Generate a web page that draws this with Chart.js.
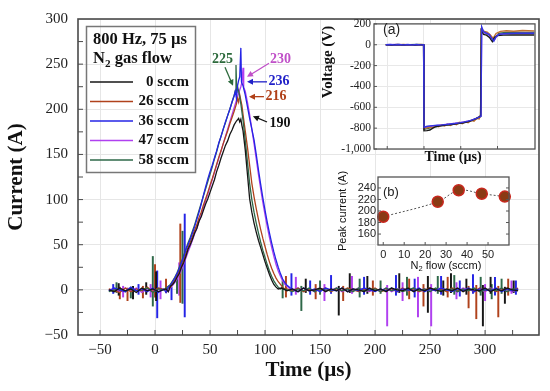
<!DOCTYPE html>
<html>
<head>
<meta charset="utf-8">
<script src="https://cdn.jsdelivr.net/npm/chart.js@4.4.0/dist/chart.umd.min.js"></script>
<style>
  html, body { margin: 0; padding: 0; background: #fff; }
  #wrap { position: relative; width: 550px; height: 391px; overflow: hidden; }
  canvas { position: absolute; }
</style>
</head>
<body>
<div id="wrap">
  <canvas id="main" width="550" height="391" style="left:0;top:0"></canvas>
  <canvas id="insetA" width="228" height="152" style="left:312px;top:14px"></canvas>
  <canvas id="insetB" width="180" height="110" style="left:336px;top:164px"></canvas>
</div>
<script>
// ---- main plot: current waveforms ----
const seriesNames = ["0 sccm", "26 sccm", "36 sccm", "47 sccm", "58 sccm"];
const seriesColors = ["#161616", "#b0421c", "#2424e6", "#b040f0", "#2e6848"];

const xTicks = [-50, 0, 50, 100, 150, 200, 250, 300];
const yTicks = [-50, 0, 50, 100, 150, 200, 250, 300];
const xMarks = [-50, -25, 0, 25, 50, 75, 100, 125, 150, 175, 200, 225, 250, 275, 300, 325];
const yMarks = [-25, 0, 25, 50, 75, 100, 125, 150, 175, 200, 225, 250, 275];

// baseline before and after the pulse (µs)
const preTimes = [-42, -37, -32, -27, -22, -17, -12, -7, -2, 3];
const postTimes = [115, 120, 125, 130, 135, 140, 145, 150, 155, 160,
  165, 170, 175, 180, 185, 190, 195, 200, 205, 210,
  215, 220, 225, 230, 235, 240, 245, 250, 255, 260,
  265, 270, 275, 280, 285, 290, 295, 300, 305, 310,
  315, 320, 325, 330];

const pre0 = [0, -2, 2, -1, 1, -3, 2, -1, 1, -2];
const pre1 = [1, -1, -3, 2, -2, 1, -1, 3, -2, 2];
const pre2 = [-1, 2, 0, -2, 3, -1, 1, -2, 2, -3];
const pre3 = [0, 1, -2, 2, -1, 2, -3, 1, -1, 1];
const pre4 = [-2, 0, 1, -2, 2, -1, 0, 2, -3, 1];

const post0 = [2, -1, 1, -2, 2, -1, 0, 2, -2, 1, -1, 2, -2, 1, 0, -2, 2, -1, 1, -2,
  2, 0, -1, 2, -2, 1, -1, 2, 0, -2, 1, -1, 2, -2, 1, 0, -1, 2, -2, 1, -1, 2, 0, -1];
const post1 = [3, 1, -1, 2, -2, 1, -1, 0, 2, -2, 1, -1, 2, 0, -2, 1, -1, 2, -2, 0,
  1, -2, 2, -1, 1, -2, 0, 2, -1, 1, -2, 2, -1, 0, 1, -2, 2, -1, 1, -2, 0, 1, -1, 2];
const post2 = [-1, 2, 1, -2, 2, -1, 1, -2, 2, 0, -1, 2, -2, 1, -1, 2, 0, -2, 1, -1,
  2, -2, 1, 0, -1, 2, -2, 1, -1, 2, 0, -2, 1, -1, 2, -2, 1, 0, -1, 2, -2, 1, -1, 1];
const post3 = [1, -2, 0, 2, -1, 1, -2, 2, -1, 0, 2, -2, 1, -1, 2, 0, -2, 1, -1, 2,
  -2, 1, 0, -1, 2, -2, 1, -1, 0, 2, -1, 1, -2, 2, 0, -1, 1, -2, 2, -1, 1, 0, -2, 1];
const post4 = [2, 0, -2, 1, -1, 2, -2, 1, 0, -1, 2, -1, 1, -2, 2, -1, 0, 1, -2, 2,
  -1, 1, -2, 0, 2, -1, 1, -2, 2, -1, 0, 1, -2, 1, -1, 2, -2, 0, 1, -1, 2, -2, 1, 0];

// the pulse itself [time µs, current A]
const pulse0 = [[10,1],[12,-2],[14,4],[16,6],[18,9],[20,14],[22,18],[24,25],[26,30],[28,37],[30,45],[32,50],[34,56],[36,63],[38,68],[40,76],[42,81],[44,88],[46,95],[48,101],[50,108],[52,115],[54,122],[56,131],[58,138],[60,146],[62,153],[64,160],[66,165],[68,172],[70,177],[72,183],[74,187],[76,190],[77,186],[78,189],[79,182],[80,176],[82,155],[84,128],[86,101],[88,86],[90,74],[92,64],[94,55],[96,47],[98,39],[100,31],[102,24],[104,17],[106,11],[108,6],[110,3],[112,1]];
const pulse1 = [[10,0],[12,2],[14,3],[16,7],[18,11],[20,16],[22,21],[24,27],[26,33],[28,40],[30,47],[32,53],[34,59],[36,66],[38,72],[40,80],[42,86],[44,94],[46,101],[48,108],[50,116],[52,123],[54,131],[56,139],[58,147],[60,154],[62,162],[64,169],[66,176],[68,184],[70,191],[72,198],[74,206],[75,212],[76,208],[77,216],[78,210],[79,204],[80,194],[82,176],[84,158],[86,138],[88,118],[90,103],[92,90],[94,78],[96,67],[98,57],[100,48],[102,39],[104,31],[106,24],[108,18],[110,13],[112,9],[114,6],[116,3],[118,1]];
const pulse2 = [[8,1],[10,-3],[12,3],[14,5],[16,9],[18,13],[20,18],[22,23],[24,30],[26,36],[28,44],[30,50],[32,56],[34,63],[36,70],[38,78],[40,86],[42,95],[44,105],[46,114],[48,123],[50,131],[52,138],[54,146],[56,154],[58,163],[60,170],[62,178],[64,186],[66,193],[68,200],[70,208],[72,215],[73,220],[74,212],[75,226],[76,232],[77,236],[78,268],[78.6,230],[80,226],[82,216],[84,203],[86,190],[88,178],[90,166],[92,150],[94,133],[96,117],[98,102],[100,88],[102,75],[104,63],[106,52],[108,42],[110,33],[112,25],[114,18],[116,12],[118,8],[120,5],[123,2],[126,0]];
const pulse3 = [[10,0],[12,-2],[14,2],[16,5],[18,8],[20,12],[22,17],[24,22],[26,28],[28,35],[30,42],[32,48],[34,55],[36,62],[38,68],[40,76],[42,83],[44,91],[46,99],[48,106],[50,114],[52,122],[54,130],[56,138],[58,146],[60,154],[62,162],[64,170],[66,178],[68,186],[70,194],[72,202],[74,210],[76,218],[78,225],[79,230],[80,246],[80.6,224],[82,220],[84,208],[86,194],[88,178],[90,162],[92,145],[94,128],[96,112],[98,97],[100,83],[102,70],[104,58],[106,47],[108,37],[110,28],[112,21],[114,15],[116,10],[118,6],[121,3],[124,0]];
const pulse4 = [[8,0],[10,2],[12,4],[14,6],[16,10],[18,14],[20,19],[22,25],[24,31],[26,38],[28,45],[30,52],[32,58],[34,65],[36,72],[38,80],[40,88],[42,96],[44,104],[46,112],[48,120],[50,128],[52,136],[54,145],[56,153],[58,162],[60,170],[62,178],[64,185],[66,193],[68,200],[70,208],[72,216],[73,221],[73.6,249],[74.3,218],[75,225],[76,220],[77,214],[78,206],[80,188],[82,166],[84,142],[86,118],[88,100],[90,86],[92,74],[94,63],[96,53],[98,44],[100,36],[102,28],[104,21],[106,15],[108,10],[110,6],[112,3],[114,1]];

// noise spikes [time µs, low A, high A]
const spikes0 = [[-33,-6,7],[-20,-10,4],[-8,-5,8],[1,-12,20],[137,-3,12],[167,-28,4],[177,-3,18],[193,-4,15],[222,-3,18],[248,-25,15],[262,-6,10],[269,-3,18],[283,-5,12],[298,-40,5],[305,-4,14],[318,-15,3],[326,-3,10]];
const spikes1 = [[-32,-10,3],[-25,-12,2],[-11,-9,4],[0,-8,28],[10,-3,12],[23,-14,73],[119,-8,15],[146,-10,6],[171,-12,4],[198,-6,10],[231,-10,12],[244,-18,6],[266,-8,14],[285,-20,4],[292,-32,5],[312,-30,4],[321,-6,12]];
const spikes2 = [[-38,-4,6],[-15,-5,6],[2,-31,21],[15,-11,3],[27,-30,84],[124,-6,18],[141,-5,10],[160,-4,16],[190,-5,14],[219,-6,16],[236,-8,12],[260,-5,15],[277,-7,10],[289,-4,17],[309,-6,14],[328,-5,10]];
const spikes3 = [[-29,-8,4],[-4,-8,6],[5,-10,10],[22,-6,30],[128,-5,14],[154,-12,6],[179,-4,15],[211,-40,5],[225,-12,8],[239,-30,14],[251,-40,6],[274,-10,8],[300,-12,6],[324,-4,10]];
const spikes4 = [[-35,-3,8],[-22,-9,3],[-2,-18,37],[20,-4,18],[25,-15,65],[116,-9,10],[133,-23,4],[150,-5,10],[186,-8,12],[205,-4,10],[229,-6,14],[257,-4,15],[272,-5,16],[296,-6,14],[306,-10,6],[315,-4,12]];

// ---- inset (a): voltage ----
const voltTimeTicks = [-50, 0, 50, 100];
const voltTicks = [-1000, -800, -600, -400, -200, 0, 200];
const volt0 = [[-52,0],[-44,-3],[-36,2],[-28,-2],[-20,1],[-12,-2],[-4,1],[-0.5,0],[0,-826],[4,-824],[8,-818],[12,-800],[16,-786],[22,-778],[30,-771],[38,-765],[46,-757],[54,-748],[62,-735],[70,-712],[75,-692],[77,-682],[78,135],[81,100],[85,92],[89,70],[93,30],[96,72],[100,88],[108,92],[118,94],[130,93],[142,95],[150,94]];
const volt1 = [[-52,1],[-40,-2],[-28,2],[-16,-1],[-4,2],[-0.5,0],[0,-804],[4,-798],[8,-790],[12,-796],[16,-778],[20,-786],[24,-770],[28,-780],[32,-762],[36,-774],[40,-755],[44,-766],[48,-745],[52,-758],[56,-738],[60,-748],[64,-726],[68,-734],[72,-706],[75,-712],[77,-672],[78,150],[82,128],[86,120],[90,96],[94,62],[98,108],[104,128],[112,134],[122,130],[134,136],[150,133]];
const volt2 = [[-52,0],[-46,3],[-40,-2],[-34,2],[-28,-3],[-22,2],[-16,-2],[-10,3],[-4,-1],[-0.5,0],[0,-792],[3,-784],[7,-780],[12,-776],[18,-772],[24,-769],[30,-765],[36,-760],[42,-755],[48,-749],[54,-742],[60,-733],[66,-720],[72,-704],[76,-692],[77.5,-686],[78.5,172],[81,125],[85,112],[89,98],[92,62],[95,35],[98,78],[102,100],[108,106],[116,108],[126,110],[138,111],[150,110]];
const volt3 = [[-52,0],[-38,2],[-24,-2],[-10,1],[-0.5,0],[0,-798],[5,-790],[10,-782],[16,-776],[24,-770],[32,-763],[40,-756],[48,-748],[56,-739],[64,-726],[70,-710],[76,-690],[77.5,-684],[78.5,158],[82,114],[87,104],[92,58],[96,48],[100,92],[108,104],[120,107],[135,108],[150,108]];
const volt4 = [[-52,0],[-30,-2],[-10,2],[-0.5,0],[0,-812],[6,-802],[12,-790],[20,-779],[30,-771],[40,-762],[50,-751],[58,-740],[66,-724],[72,-708],[77,-688],[78,146],[83,112],[88,100],[92,70],[96,64],[102,110],[112,118],[124,120],[138,119],[150,120]];

// ---- inset (b): peak current vs flow ----
const flowValues = [0, 26, 36, 47, 58];
const peakValues = [190, 216, 236, 230, 225];
const flowTicks = [0, 10, 20, 30, 40, 50];
const peakTicks = [160, 180, 200, 220, 240];

const SERIF = '"Liberation Serif", "Times New Roman", serif';
const SANS = '"Liberation Sans", Arial, sans-serif';

// text with an optional subscript part
function drawRich(ctx, parts, family, size, weight, color, align) {
  const f = sz => `${weight} ${sz}px ${family}`;
  let total = 0;
  parts.forEach(p => { ctx.font = f(p.sub ? size * 0.68 : size); total += ctx.measureText(p.t).width; });
  let x = align === 'center' ? -total / 2 : align === 'right' ? -total : 0;
  ctx.fillStyle = color;
  ctx.textBaseline = 'middle';
  ctx.textAlign = 'left';
  parts.forEach(p => {
    const sz = p.sub ? size * 0.68 : size;
    ctx.font = f(sz);
    ctx.fillText(p.t, x, p.sub ? size * 0.3 : 0);
    x += ctx.measureText(p.t).width;
  });
}

function makeLabels(items) {
  return {
    id: 'labels',
    afterDraw(chart) {
      const ctx = chart.ctx;
      items.forEach(it => {
        ctx.save();
        ctx.translate(it.x, it.y);
        if (it.rotate) ctx.rotate(it.rotate);
        drawRich(ctx, it.parts, it.family, it.size, it.weight || 'normal', it.color || '#111', it.align || 'center');
        ctx.restore();
      });
    }
  };
}

function makeFrame(o) {
  return {
    id: 'frame',
    beforeDraw(chart) {
      if (!o.fill) return;
      const a = chart.chartArea;
      chart.ctx.save();
      chart.ctx.fillStyle = '#fff';
      chart.ctx.fillRect(a.left, a.top, a.width, a.height);
      chart.ctx.restore();
    },
    afterDatasetsDraw(chart) {
      const {ctx, chartArea: a, scales} = chart;
      ctx.save();
      ctx.strokeStyle = o.color;
      ctx.lineWidth = 1;
      ctx.beginPath();
      (o.xMarks || []).forEach(v => {
        const px = scales.x.getPixelForValue(v);
        ctx.moveTo(px, a.bottom); ctx.lineTo(px, a.bottom - o.len);
      });
      (o.yMarks || []).forEach(v => {
        const py = scales.y.getPixelForValue(v);
        ctx.moveTo(a.left, py); ctx.lineTo(a.left + o.len, py);
        if (o.mirror) { ctx.moveTo(a.right, py); ctx.lineTo(a.right - o.len, py); }
      });
      ctx.stroke();
      ctx.lineWidth = o.width;
      ctx.strokeRect(a.left, a.top, a.width, a.height);
      ctx.restore();
    }
  };
}

// ---------- main chart ----------
const pulses = [pulse0, pulse1, pulse2, pulse3, pulse4];
const pres = [pre0, pre1, pre2, pre3, pre4];
const posts = [post0, post1, post2, post3, post4];
const spikes = [spikes0, spikes1, spikes2, spikes3, spikes4];
const drawOrder = [0, 3, 1, 4, 2]; // black on top, magenta at bottom

function trace(k) {
  const p = pulses[k], first = p[0][0], last = p[p.length - 1][0];
  const pts = [];
  preTimes.forEach((t, i) => { if (t < first && pres[k][i] !== undefined) pts.push({x: t, y: pres[k][i]}); });
  p.forEach(q => pts.push({x: q[0], y: q[1]}));
  postTimes.forEach((t, i) => { if (t > last && posts[k][i] !== undefined) pts.push({x: t, y: posts[k][i]}); });
  return pts;
}

const mainSets = [];
seriesNames.forEach((name, k) => {
  mainSets.push({
    type: 'line', label: name, data: trace(k),
    borderColor: seriesColors[k], borderWidth: 1.3,
    pointRadius: 0, tension: 0, fill: false, order: drawOrder[k]
  });
});
seriesNames.forEach((name, k) => {
  mainSets.push({
    type: 'bar', label: name + ' noise',
    data: spikes[k].map(s => ({x: s[0], y: [s[1], s[2]]})),
    backgroundColor: seriesColors[k], borderWidth: 0,
    barThickness: 1.3, grouped: false, order: 5 + drawOrder[k]
  });
});

// peak value call-outs, anchored in data units
const peakNotes = [
  { k: 4, color: '#2d6a3c', at: [61.4, 255.5], tail: [63.6, 246.5], tip: [70.9, 226] },
  { k: 3, color: '#c050c8', at: [114, 255.5], tail: [103.6, 251], tip: [83.6, 236] },
  { k: 2, color: '#2020c8', at: [112.7, 230.4], tail: [101.8, 230.4], tip: [83.6, 230.4] },
  { k: 1, color: '#b04018', at: [110, 214], tail: [99, 214], tip: [85.4, 214] },
  { k: 0, color: '#111111', at: [113.6, 184.8], tail: [101.8, 185.9], tip: [89, 192.4] }
];

const notesPlugin = {
  id: 'notes',
  afterDatasetsDraw(chart) {
    const {ctx, chartArea: a, scales: {x, y}} = chart;
    ctx.save();
    peakNotes.forEach(n => {
      const tx = x.getPixelForValue(n.tail[0]), ty = y.getPixelForValue(n.tail[1]);
      const hx = x.getPixelForValue(n.tip[0]), hy = y.getPixelForValue(n.tip[1]);
      const ang = Math.atan2(hy - ty, hx - tx);
      ctx.strokeStyle = n.color; ctx.fillStyle = n.color; ctx.lineWidth = 1.3;
      ctx.beginPath(); ctx.moveTo(tx, ty);
      ctx.lineTo(hx - 4 * Math.cos(ang), hy - 4 * Math.sin(ang)); ctx.stroke();
      ctx.beginPath();
      ctx.moveTo(hx, hy);
      ctx.lineTo(hx - 6 * Math.cos(ang) + 3 * Math.sin(ang), hy - 6 * Math.sin(ang) - 3 * Math.cos(ang));
      ctx.lineTo(hx - 6 * Math.cos(ang) - 3 * Math.sin(ang), hy - 6 * Math.sin(ang) + 3 * Math.cos(ang));
      ctx.closePath(); ctx.fill();
      ctx.save();
      ctx.translate(x.getPixelForValue(n.at[0]), y.getPixelForValue(n.at[1]));
      drawRich(ctx, [{t: String(peakValues[n.k])}], SERIF, 14, 'bold', n.color, 'center');
      ctx.restore();
    });

    // legend box
    const bx = a.left + 8, by = a.top + 7;
    ctx.strokeStyle = '#777'; ctx.lineWidth = 1.5;
    ctx.strokeRect(bx + 0.5, by + 0.5, 109, 146);
    ctx.save(); ctx.translate(bx + 7, by + 14);
    drawRich(ctx, [{t: '800 Hz, 75 µs'}], SERIF, 16.5, 'bold', '#111', 'left');
    ctx.restore();
    ctx.save(); ctx.translate(bx + 7, by + 33);
    drawRich(ctx, [{t: 'N'}, {t: '2', sub: true}, {t: ' gas flow'}], SERIF, 16.5, 'bold', '#111', 'left');
    ctx.restore();
    seriesNames.forEach((name, k) => {
      const ly = by + 56 + k * 19.5;
      ctx.strokeStyle = seriesColors[k]; ctx.lineWidth = 1.6;
      ctx.beginPath(); ctx.moveTo(bx + 4, ly); ctx.lineTo(bx + 47, ly); ctx.stroke();
      ctx.save(); ctx.translate(bx + 103, ly);
      drawRich(ctx, [{t: name}], SERIF, 15, 'bold', '#111', 'right');
      ctx.restore();
    });
    ctx.restore();
  }
};

const minusFmt = v => v < 0 ? '\u2212' + Math.abs(v) : String(v);

new Chart(document.getElementById('main'), {
  type: 'line',
  data: { datasets: mainSets },
  options: {
    responsive: false, animation: false,
    layout: { padding: { left: 0, right: 11, top: 13, bottom: 0 } },
    plugins: { legend: { display: false }, tooltip: { enabled: false } },
    scales: {
      x: {
        type: 'linear', min: -70, max: 349, offset: false,
        afterBuildTicks: s => { s.ticks = xTicks.map(v => ({value: v})); },
        grid: { color: '#e6e6e6', drawTicks: false, offset: false },
        border: { display: false },
        ticks: { font: { family: SERIF, size: 15 }, color: '#222', padding: 6, maxRotation: 0, callback: minusFmt },
        title: { display: true, text: 'Time (µs)', color: '#111', font: { family: SERIF, size: 21, weight: 'bold' }, padding: { top: 0, bottom: 8 } },
        afterFit: s => { s.height = 56; }
      },
      y: {
        type: 'linear', min: -50, max: 300,
        afterBuildTicks: s => { s.ticks = yTicks.map(v => ({value: v})); },
        grid: { color: '#e6e6e6', drawTicks: false },
        border: { display: false },
        ticks: { font: { family: SERIF, size: 15 }, color: '#222', padding: 10, callback: minusFmt },
        title: { display: true, text: 'Current (A)', color: '#111', font: { family: SERIF, size: 21, weight: 'bold' }, padding: { top: 4, bottom: 0 } },
        afterFit: s => { s.width = 78; }
      }
    }
  },
  plugins: [makeFrame({ color: '#4a4a4a', width: 1.6, len: 5, xMarks: xMarks, yMarks: yMarks }), notesPlugin]
});

// ---------- inset (a) ----------
const volts = [volt0, volt1, volt2, volt3, volt4];
const voltColors = ["#1a1a1a", "#c07030", "#3434e0", "#a050f0", "#3a6a50"];
const voltOrder = [1, 2, 0, 3, 4];

new Chart(document.getElementById('insetA'), {
  type: 'line',
  data: {
    datasets: volts.map((v, k) => ({
      label: seriesNames[k], data: v.map(p => ({x: p[0], y: p[1]})),
      borderColor: voltColors[k], borderWidth: 1.4, pointRadius: 0, tension: 0, order: voltOrder[k]
    }))
  },
  options: {
    responsive: false, animation: false,
    layout: { padding: { left: 0, right: 5, top: 7, bottom: 0 } },
    plugins: { legend: { display: false }, tooltip: { enabled: false } },
    scales: {
      x: {
        type: 'linear', min: -68, max: 151,
        afterBuildTicks: s => { s.ticks = voltTimeTicks.map(v => ({value: v})); },
        grid: { color: '#e8e8e8', drawTicks: false }, border: { display: false },
        ticks: { display: false },
        afterFit: s => { s.height = 17; }
      },
      y: {
        type: 'linear', min: -1000, max: 200,
        afterBuildTicks: s => { s.ticks = voltTicks.map(v => ({value: v})); },
        grid: { color: '#e8e8e8', drawTicks: false }, border: { display: false },
        ticks: { font: { family: SERIF, size: 11.5 }, color: '#222', padding: 3 },
        afterFit: s => { s.width = 62; }
      }
    }
  },
  plugins: [
    makeFrame({ color: '#555', width: 1.3, len: 3, fill: true, xMarks: voltTimeTicks, yMarks: voltTicks }),
    makeLabels([
      { parts: [{t: 'Voltage (V)'}], x: 16, y: 48, rotate: -Math.PI / 2, family: SERIF, size: 15, weight: 'bold' },
      { parts: [{t: 'Time (µs)'}], x: 141, y: 143, family: SERIF, size: 14, weight: 'bold' },
      { parts: [{t: '(a)'}], x: 71, y: 16, family: SANS, size: 14, align: 'left', color: '#222' }
    ])
  ]
});

// ---------- inset (b) ----------
new Chart(document.getElementById('insetB'), {
  type: 'line',
  data: {
    datasets: [{
      label: 'Peak current', data: flowValues.map((f, i) => ({x: f, y: peakValues[i]})),
      borderColor: '#555', borderWidth: 1, borderDash: [2, 2], tension: 0.35,
      pointRadius: 5.5, pointBackgroundColor: '#8a3a14', pointBorderColor: '#c8281e', pointBorderWidth: 1.5,
      clip: 8
    }]
  },
  options: {
    responsive: false, animation: false,
    layout: { padding: { left: 0, right: 5, top: 13, bottom: 0 } },
    plugins: { legend: { display: false }, tooltip: { enabled: false } },
    scales: {
      x: {
        type: 'linear', min: -2.5, max: 60,
        afterBuildTicks: s => { s.ticks = flowTicks.map(v => ({value: v})); },
        grid: { display: false, drawTicks: false }, border: { display: false },
        ticks: { font: { family: SANS, size: 11 }, color: '#222', padding: 3, maxRotation: 0 },
        afterFit: s => { s.height = 29; }
      },
      y: {
        type: 'linear', min: 141, max: 259,
        afterBuildTicks: s => { s.ticks = peakTicks.map(v => ({value: v})); },
        grid: { display: false, drawTicks: false }, border: { display: false },
        ticks: { font: { family: SANS, size: 11 }, color: '#222', padding: 2 },
        afterFit: s => { s.width = 42; }
      }
    }
  },
  plugins: [
    makeFrame({ color: '#555', width: 1.3, len: 3, fill: true, mirror: true, xMarks: flowTicks, yMarks: peakTicks }),
    makeLabels([
      { parts: [{t: 'Peak current (A)'}], x: 7, y: 47, rotate: -Math.PI / 2, family: SANS, size: 11 },
      { parts: [{t: 'N'}, {t: '2', sub: true}, {t: ' flow (sccm)'}], x: 110, y: 102, family: SANS, size: 11 },
      { parts: [{t: '(b)'}], x: 47, y: 28, family: SANS, size: 13, align: 'left', color: '#222' }
    ])
  ]
});
</script>
</body>
</html>
